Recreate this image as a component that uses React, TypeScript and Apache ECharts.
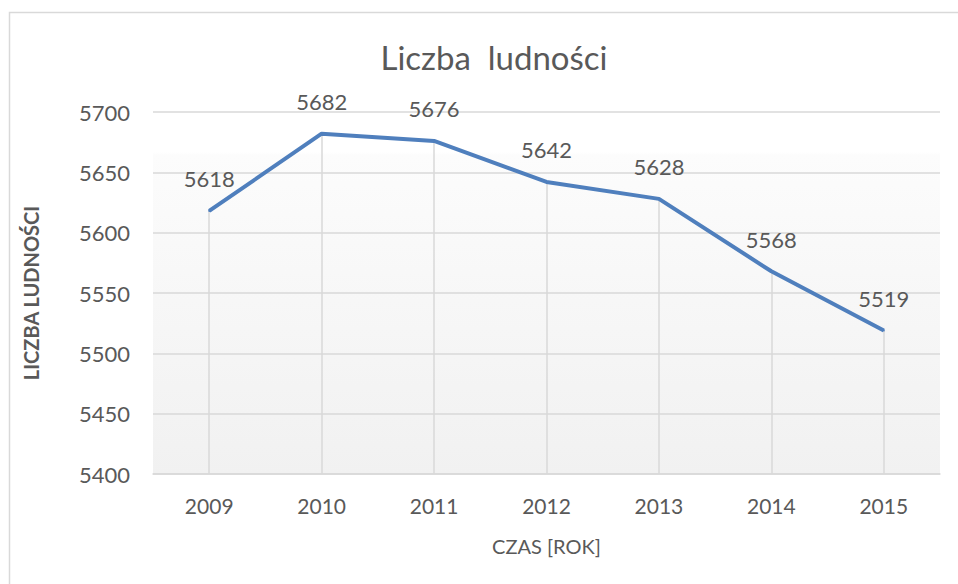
import React, { useEffect, useRef } from "react";
import * as echarts from "echarts";

const years = ["2009", "2010", "2011", "2012", "2013", "2014", "2015"];
const population = [5618, 5682, 5676, 5642, 5628, 5568, 5519];
const yMin = 5400;
const yMax = 5700;
const yStep = 50;

export default function App() {
  const ref = useRef<HTMLDivElement>(null);
  useEffect(() => {
    if (!ref.current) return;
    const chart = echarts.init(ref.current, undefined, { renderer: "svg" });
    const font = "Lato, 'Open Sans', sans-serif";
    chart.setOption({
      animation: false,
      backgroundColor: "#ffffff",
      title: {
        text: "Liczba  ludności",
        left: 489,
        textAlign: "center",
        top: 35,
        textStyle: { fontFamily: font, fontSize: 33, fontWeight: "normal", color: "#595959" },
      },
      graphic: [
        {
          type: "rect",
          shape: { x: 9.5, y: 12.5, width: 1200, height: 1200 },
          style: { fill: "none", stroke: "#d9d9d9", lineWidth: 1.5 },
          silent: true,
        },
      ],
      grid: {
        left: 153,
        right: 18,
        top: 112,
        bottom: 110,
        show: true,
        borderWidth: 0,
        backgroundColor: new echarts.graphic.LinearGradient(0, 0, 0, 1, [
          { offset: 0, color: "#ffffff" },
          { offset: 0.11, color: "#ffffff" },
          { offset: 0.12, color: "#fcfcfc" },
          { offset: 1, color: "#f1f1f1" },
        ]),
      },
      xAxis: {
        type: "category",
        data: years,
        boundaryGap: true,
        name: "CZAS [ROK]",
        nameLocation: "middle",
        nameGap: 62,
        nameTextStyle: { fontFamily: font, fontSize: 20, color: "#595959" },
        axisLine: { show: true, lineStyle: { color: "#d9d9d9", width: 1.5 } },
        axisTick: { show: false },
        splitLine: { show: false },
        axisLabel: { fontFamily: font, fontSize: 21, color: "#595959", margin: 21 },
      },
      yAxis: {
        type: "value",
        min: yMin,
        max: yMax,
        interval: yStep,
        name: "LICZBA LUDNOŚCI",
        nameLocation: "middle",
        nameGap: 112,
        nameTextStyle: { fontFamily: font, fontSize: 20, fontWeight: "bold", color: "#595959" },
        axisLine: { show: false },
        axisTick: { show: false },
        splitLine: { show: true, lineStyle: { color: "#d9d9d9", width: 1.5 } },
        axisLabel: {
          fontFamily: font,
          fontSize: 22,
          color: "#595959",
          margin: 23,
          formatter: (v: number) => String(v),
        },
      },
      series: [
        {
          type: "line",
          data: population,
          symbol: "circle",
          symbolSize: 2,
          showSymbol: true,
          showAllSymbol: true,
          lineStyle: { color: "#4f7fbd", width: 4 },
          itemStyle: { color: "#4f7fbd" },
          label: {
            show: true,
            position: "top",
            distance: 20,
            fontFamily: font,
            fontSize: 22,
            color: "#595959",
          },
          markLine: {
            silent: true,
            symbol: "none",
            label: { show: false },
            lineStyle: { color: "#d9d9d9", width: 1.5, type: "solid" },
            data: population.map((v, i) => [
              { coord: [i, yMin] },
              { coord: [i, v] },
            ]),
            z: 1,
          },
          z: 3,
        },
      ],
    });
    return () => chart.dispose();
  }, []);
  return (
    <div
      ref={ref}
      style={{ position: "fixed", left: 0, top: 0, width: 958, height: 584 }}
    />
  );
}
